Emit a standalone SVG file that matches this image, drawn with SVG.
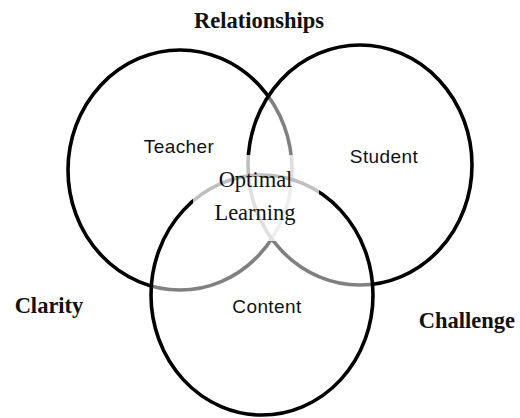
<svg xmlns="http://www.w3.org/2000/svg" width="520" height="418" viewBox="0 0 520 418">
<style>
.ring{stroke:#000;stroke-width:3.6}
.veil{fill:#fff;fill-opacity:0.5}
.lab{font-family:"Liberation Sans",Arial,sans-serif;font-size:19px;fill:#111;text-anchor:middle;letter-spacing:0.4px}
.cat{font-family:"Liberation Serif","Times New Roman",serif;font-size:22.5px;font-weight:bold;fill:#111;text-anchor:middle}
.opt{font-family:"Liberation Serif","Times New Roman",serif;font-size:22.5px;fill:#111;text-anchor:middle}
</style>
<rect width="520" height="418" fill="#fff"/>
<g id="connectors"></g>
<g id="teacher">
<ellipse class="ring" cx="180" cy="170" rx="112" ry="120" fill="none"/>
</g>
<g id="student">
<ellipse class="ring veil" cx="360" cy="165" rx="112" ry="120"/>
</g>
<g id="content">
<ellipse class="ring veil" cx="262" cy="295" rx="111" ry="120"/>
</g>
<rect x="193" y="155" width="126" height="86" fill="#fff" fill-opacity="0.75"/>
<g id="relationships"><text class="cat" x="259" y="28">Relationships</text></g>
<g id="clarity"><text class="cat" x="49" y="313">Clarity</text></g>
<g id="challenge"><text class="cat" x="467" y="328">Challenge</text></g>
<g id="teacher-label"><text class="lab" x="179" y="153">Teacher</text></g>
<g id="student-label"><text class="lab" x="384" y="163">Student</text></g>
<g id="content-label"><text class="lab" x="267" y="313">Content</text></g>
<g id="optimal"><text class="opt" x="255.5" y="187">Optimal</text><text class="opt" x="255" y="220">Learning</text></g>
</svg>
